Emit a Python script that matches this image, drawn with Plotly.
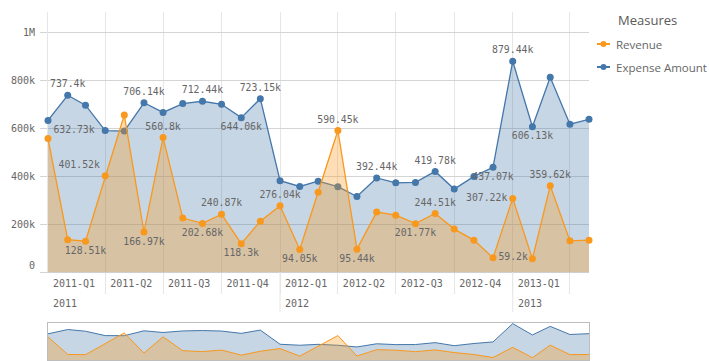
import plotly.graph_objects as go
import pandas as pd

# Monthly categories
months = ["2011-01", "2011-02", "2011-03", "2011-04", "2011-05", "2011-06",
          "2011-07", "2011-08", "2011-09", "2011-10", "2011-11", "2011-12",
          "2012-01", "2012-02", "2012-03", "2012-04", "2012-05", "2012-06",
          "2012-07", "2012-08", "2012-09", "2012-10", "2012-11", "2012-12",
          "2013-01", "2013-02", "2013-03", "2013-04", "2013-05"]

revenue = [557000, 135000, 128510, 401520, 655000, 166970, 560800, 225000,
           202680, 240870, 118300, 212000, 276040, 94050, 333000, 590450,
           95440, 250000, 237000, 201770, 244510, 179000, 133000, 59200,
           307220, 55000, 359620, 130000, 133000]

expense = [632730, 737400, 696000, 590000, 588000, 706140, 666000, 703000,
           712440, 700000, 644060, 723150, 381000, 357000, 379000, 356000,
           315000, 392440, 372000, 374000, 419780, 346000, 399000, 437070,
           879440, 606130, 813000, 617000, 637000]

quarter_labels = ["2011-Q1", "2011-Q2", "2011-Q3", "2011-Q4", "2012-Q1",
                  "2012-Q2", "2012-Q3", "2012-Q4", "2013-Q1"]
year_labels = ["2011", "2012", "2013"]

y_tickvals = [0, 200000, 400000, 600000, 800000, 1000000]
y_ticktext = ["", "200k", "400k", "600k", "800k", "1M"]

# which points carry a value label, and where the label sits
revenue_label_pos = {2: "bottom center", 3: "top left", 5: "bottom center",
                     6: "top center", 8: "bottom center", 9: "top center",
                     10: "bottom center", 12: "top center", 13: "bottom center",
                     15: "top center", 16: "bottom center", 19: "bottom center",
                     20: "top center", 23: "middle right", 24: "middle left",
                     26: "top center"}
expense_label_pos = {0: "bottom right", 1: "top center", 5: "top center",
                     8: "top center", 10: "bottom center", 11: "top center",
                     17: "top center", 20: "top center", 23: "bottom center",
                     24: "top center", 25: "bottom center"}

BLUE = "#4477aa"
ORANGE = "#f8981d"
BLUE_FILL = "rgba(68,119,170,0.30)"
ORANGE_FILL = "rgba(248,152,29,0.32)"
GRID_H = "#d4d4d4"
GRID_V = "#e6e6e6"
TEXT = "#666666"
MONO = "DejaVu Sans Mono"
SANS = "Open Sans"

x = pd.to_datetime(months)


def fmt_k(v):
    return f"{v / 1000:.2f}".rstrip("0").rstrip(".") + "k"


def labels(values, pos_map):
    text = [fmt_k(v) if i in pos_map else "" for i, v in enumerate(values)]
    pos = [pos_map.get(i, "top center") for i in range(len(values))]
    return text, pos


fig = go.Figure()

exp_text, exp_pos = labels(expense, expense_label_pos)
rev_text, rev_pos = labels(revenue, revenue_label_pos)

fig.add_trace(go.Scatter(
    x=x, y=expense, name="Expense Amount", mode="lines+markers+text",
    fill="tozeroy", fillcolor=BLUE_FILL,
    line=dict(color=BLUE, width=1.3), marker=dict(color=BLUE, size=7),
    text=exp_text, textposition=exp_pos,
    textfont=dict(family=MONO, size=9.8, color=TEXT),
    cliponaxis=False, showlegend=False, xaxis="x", yaxis="y"))

fig.add_trace(go.Scatter(
    x=x, y=revenue, name="Revenue", mode="lines+markers+text",
    fill="tozeroy", fillcolor=ORANGE_FILL,
    line=dict(color=ORANGE, width=1.3), marker=dict(color=ORANGE, size=7),
    text=rev_text, textposition=rev_pos,
    textfont=dict(family=MONO, size=9.8, color=TEXT),
    cliponaxis=False, showlegend=False, xaxis="x", yaxis="y"))

# overview strip underneath
fig.add_trace(go.Scatter(
    x=x, y=expense, mode="lines", fill="tozeroy", fillcolor=BLUE_FILL,
    line=dict(color=BLUE, width=1), showlegend=False, hoverinfo="skip",
    xaxis="x2", yaxis="y2"))
fig.add_trace(go.Scatter(
    x=x, y=revenue, mode="lines", fill="tozeroy", fillcolor=ORANGE_FILL,
    line=dict(color=ORANGE, width=1), showlegend=False, hoverinfo="skip",
    xaxis="x2", yaxis="y2"))

# quarter boundaries and label positions
quarter_starts = [d for d in x if d.month in (1, 4, 7, 10)]
quarter_mids = [d + pd.Timedelta(days=41) for d in quarter_starts[:len(quarter_labels)]]
year_starts = [d for d in x if d.month == 1]

W, H = 709, 361
M_L, M_R, M_T, M_B = 48, 120, 12, 1
plot_h = H - M_T - M_B
main_bottom = (H - M_B - 272) / plot_h
mini_top = (H - M_B - 323) / plot_h

fig.update_layout(
    width=W, height=H,
    margin=dict(l=M_L, r=M_R, t=M_T, b=M_B),
    paper_bgcolor="white", plot_bgcolor="white",
    showlegend=False,
    xaxis=dict(
        domain=[0, 1], anchor="y",
        range=[x[0], x[-1]],
        tickmode="array", tickvals=quarter_mids, ticktext=quarter_labels,
        ticks="", showgrid=False, zeroline=False,
        showline=True, linecolor="#cfcfcf", linewidth=1,
        layer="below traces",
        tickfont=dict(family=MONO, size=10, color=TEXT),
        ticklabelstandoff=2,
        minor=dict(tickmode="array", tickvals=quarter_starts[1:],
                   showgrid=True, gridcolor=GRID_V, gridwidth=1,
                   ticks="outside", ticklen=21, tickcolor=GRID_V, tickwidth=1),
    ),
    yaxis=dict(
        domain=[main_bottom, 1], anchor="x",
        range=[0, 1085000],
        tickmode="array", tickvals=y_tickvals, ticktext=y_ticktext,
        showgrid=True, gridcolor=GRID_H, gridwidth=1, zeroline=False,
        ticks="outside", ticklen=7, tickcolor=GRID_H,
        showline=True, linecolor=GRID_V,
        layer="below traces",
        tickfont=dict(family=MONO, size=10, color=TEXT),
        ticklabelstandoff=3,
    ),
    xaxis2=dict(
        domain=[0, 1], anchor="y2", range=[x[0], x[-1]],
        showticklabels=False, ticks="", showgrid=False, zeroline=False,
        showline=True, mirror=True, linecolor="#bdbdbd", linewidth=1,
    ),
    yaxis2=dict(
        domain=[0, mini_top], anchor="x2", range=[0, 895000],
        showticklabels=False, ticks="", showgrid=False, zeroline=False,
        showline=True, mirror=True, linecolor="#bdbdbd", linewidth=1,
    ),
)

# zero label sits just above the baseline
fig.add_annotation(x=0, xref="paper", xanchor="right", xshift=-11,
                   y=0, yref="y", yanchor="middle", yshift=7,
                   text="0", showarrow=False,
                   font=dict(family=MONO, size=10, color=TEXT))

# year row below the quarter row
year_line_bottom = (H - M_B - 312) / plot_h
for d, lab in zip(year_starts, year_labels):
    fig.add_annotation(x=d, xref="x", xanchor="left", xshift=3,
                       y=(H - M_B - 303) / plot_h, yref="paper", yanchor="middle",
                       text=lab, showarrow=False,
                       font=dict(family=MONO, size=10, color=TEXT))
for d in year_starts[1:]:
    fig.add_shape(type="line", xref="x", yref="paper",
                  x0=d, x1=d, y0=main_bottom, y1=year_line_bottom,
                  line=dict(color=GRID_V, width=1))

# legend block at the right
plot_w = W - M_L - M_R


def px_x(p):
    return (p - M_L) / plot_w


def px_y(p):
    return (H - M_B - p) / plot_h


fig.add_annotation(x=px_x(647), y=px_y(20), xref="paper", yref="paper",
                   xanchor="center", yanchor="middle", text="Measures",
                   showarrow=False, font=dict(family=SANS, size=13, color="#595959"))
for trace_name, color, yp in (("Revenue", ORANGE, 44), ("Expense Amount", BLUE, 67)):
    fig.add_shape(type="line", xref="paper", yref="paper",
                  x0=px_x(597), x1=px_x(610), y0=px_y(yp), y1=px_y(yp),
                  line=dict(color=color, width=2))
    fig.add_shape(type="circle", xref="paper", yref="paper",
                  x0=px_x(600.5), x1=px_x(606.5), y0=px_y(yp + 3), y1=px_y(yp - 3),
                  fillcolor=color, line=dict(color=color, width=0))
    fig.add_annotation(x=px_x(614), y=px_y(yp), xref="paper", yref="paper",
                       xanchor="left", yanchor="middle", text=trace_name,
                       showarrow=False, font=dict(family=SANS, size=11.5, color="#666666"))

fig.write_html("out.html")
